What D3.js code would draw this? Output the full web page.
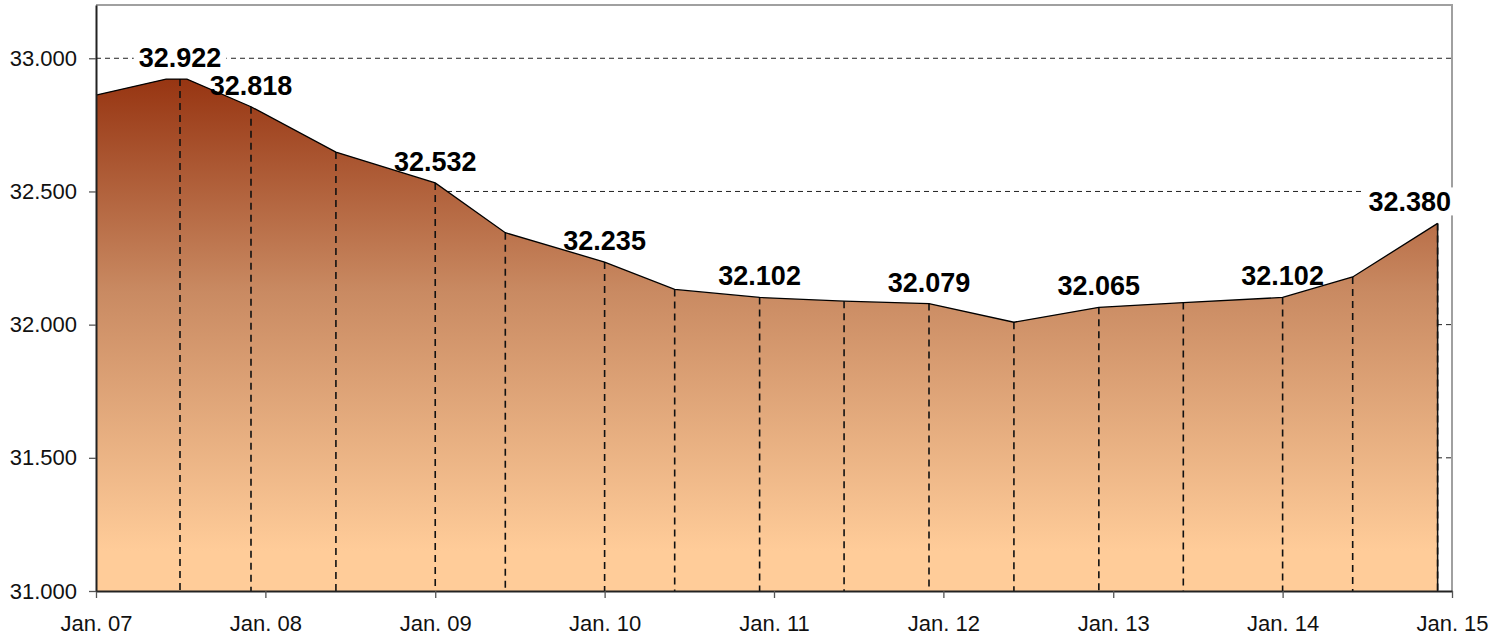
<!DOCTYPE html>
<html>
<head>
<meta charset="utf-8">
<script src="https://cdn.jsdelivr.net/npm/d3@7"></script>
<style>
  body { margin: 0; background: #fff; }
  text { font-family: "Liberation Sans", Arial, sans-serif; }
</style>
</head>
<body>
<div class="chart"></div>
<script>
// values
const dates = ["2007-01-01", "2007-06-01", "2007-07-01", "2007-07-16", "2007-12-01",
               "2008-06-01", "2009-01-01", "2009-06-01", "2010-01-01", "2010-06-01",
               "2010-12-01", "2011-06-01", "2011-12-01", "2012-06-01", "2012-12-01",
               "2013-06-01", "2014-01-01", "2014-06-01", "2014-12-01"];
const values = [32.862, 32.922, 32.922, 32.922, 32.818,
                32.648, 32.532, 32.345, 32.235, 32.132,
                32.102, 32.088, 32.079, 32.009, 32.065,
                32.083, 32.102, 32.179, 32.380];
const hasDrop = [0, 0, 1, 0, 1, 1, 1, 1, 1, 1, 1, 1, 1, 1, 1, 1, 1, 1, 1];
const hasLabel = [0, 0, 1, 0, 1, 0, 1, 0, 1, 0, 1, 0, 1, 0, 1, 0, 1, 0, 1];
const yTicks = [31, 31.5, 32, 32.5, 33];
const yGrid = [31.5, 32, 32.5, 33];

const parse = d3.timeParse("%Y-%m-%d");
const data = dates.map((d, i) => ({
    date: parse(d), value: values[i], drop: hasDrop[i], label: hasLabel[i]
}));

const W = 1498, H = 638;
const margin = {top: 5, right: 46, bottom: 47, left: 96};
const width = W - margin.left - margin.right;
const height = H - margin.top - margin.bottom;

const svg = d3.select(".chart").append("svg")
    .attr("width", W)
    .attr("height", H);

const g = svg.append("g")
    .attr("transform", `translate(${margin.left},${margin.top})`);

const x = d3.scaleTime()
    .domain([parse("2007-01-01"), parse("2015-01-01")])
    .range([0, width]);
const y = d3.scaleLinear()
    .domain([31, 33.2])
    .range([height, 0]);

const fmt = d3.format(".3f");

// gradient for the area
const grad = svg.append("defs").append("linearGradient")
    .attr("id", "fillGrad")
    .attr("gradientUnits", "userSpaceOnUse")
    .attr("x1", 0).attr("x2", 0)
    .attr("y1", y(d3.max(values))).attr("y2", y(31.15));
grad.append("stop").attr("offset", "0%").attr("stop-color", "#973512");
grad.append("stop").attr("offset", "45%").attr("stop-color", "#c98a62");
grad.append("stop").attr("offset", "100%").attr("stop-color", "#ffcc99");

// plot frame (top and right in light grey)
g.append("path")
    .attr("d", `M0,0H${width}V${height}`)
    .attr("fill", "none")
    .attr("stroke", "#a0a0a0")
    .attr("stroke-width", 2);

// dashed gridlines
g.selectAll(".grid")
    .data(yGrid)
    .enter()
    .append("line")
    .attr("x1", 0)
    .attr("x2", width)
    .attr("y1", d => y(d))
    .attr("y2", d => y(d))
    .attr("stroke", "#222")
    .attr("stroke-width", 1)
    .attr("stroke-dasharray", "5,4");

// label boxes go under the area, they only hide the gridlines
const boxLayer = g.append("g");

// area + line
const area = d3.area()
    .x(d => x(d.date))
    .y0(height)
    .y1(d => y(d.value));
const line = d3.line()
    .x(d => x(d.date))
    .y(d => y(d.value));

g.append("path")
    .datum(data)
    .attr("d", area)
    .attr("fill", "url(#fillGrad)");

// drop lines
g.selectAll(".drop")
    .data(data.filter(d => d.drop))
    .enter()
    .append("line")
    .attr("x1", d => x(d.date))
    .attr("x2", d => x(d.date))
    .attr("y1", d => y(d.value))
    .attr("y2", height)
    .attr("stroke", "#111")
    .attr("stroke-width", 1.6)
    .attr("stroke-dasharray", "7,5");

// right edge of the area
const last = data[data.length - 1];
g.append("line")
    .attr("x1", x(last.date)).attr("x2", x(last.date))
    .attr("y1", y(last.value)).attr("y2", height)
    .attr("stroke", "#111")
    .attr("stroke-width", 1.5);

g.append("path")
    .datum(data)
    .attr("d", line)
    .attr("fill", "none")
    .attr("stroke", "#000")
    .attr("stroke-width", 1.3);

// axes
const xAxis = d3.axisBottom(x)
    .ticks(d3.timeYear.every(1))
    .tickFormat(d3.timeFormat("Jan. %y"))
    .tickSize(7)
    .tickSizeOuter(0)
    .tickPadding(17);
const yAxis = d3.axisLeft(y)
    .tickValues(yTicks)
    .tickFormat(fmt)
    .tickSize(7)
    .tickSizeOuter(0)
    .tickPadding(12);

const gx = g.append("g")
    .attr("transform", `translate(0,${height})`)
    .call(xAxis);
const gy = g.append("g")
    .call(yAxis);

[gx, gy].forEach(a => {
    a.select(".domain").attr("stroke", "#222").attr("stroke-width", 2);
    a.selectAll(".tick line").attr("stroke", "#555").attr("stroke-width", 1.3);
    a.selectAll(".tick text")
        .attr("fill", "#111")
        .style("font-family", "'Liberation Sans', Arial, sans-serif")
        .style("font-size", "22px");
});

// value labels
g.selectAll(".vlabel")
    .data(data.filter(d => d.label))
    .enter()
    .append("text")
    .attr("class", "vlabel")
    .attr("x", d => x(d.date))
    .attr("y", d => y(d.value) - 12)
    .attr("text-anchor", "middle")
    .style("font-size", "27px")
    .style("font-weight", "bold")
    .attr("fill", "#000")
    .text(d => fmt(d.value))
    .each(function() {
        // keep labels inside the plot
        const t = d3.select(this);
        let b = this.getBBox();
        if (b.x + b.width > width) {
            t.attr("text-anchor", "end").attr("x", width - 1);
            b = this.getBBox();
        }
        boxLayer.append("rect")
            .attr("x", b.x - 5)
            .attr("width", b.width + 10)
            .attr("y", +t.attr("y") - 24)
            .attr("height", 28)
            .attr("fill", "#fff");
    });
</script>
</body>
</html>
